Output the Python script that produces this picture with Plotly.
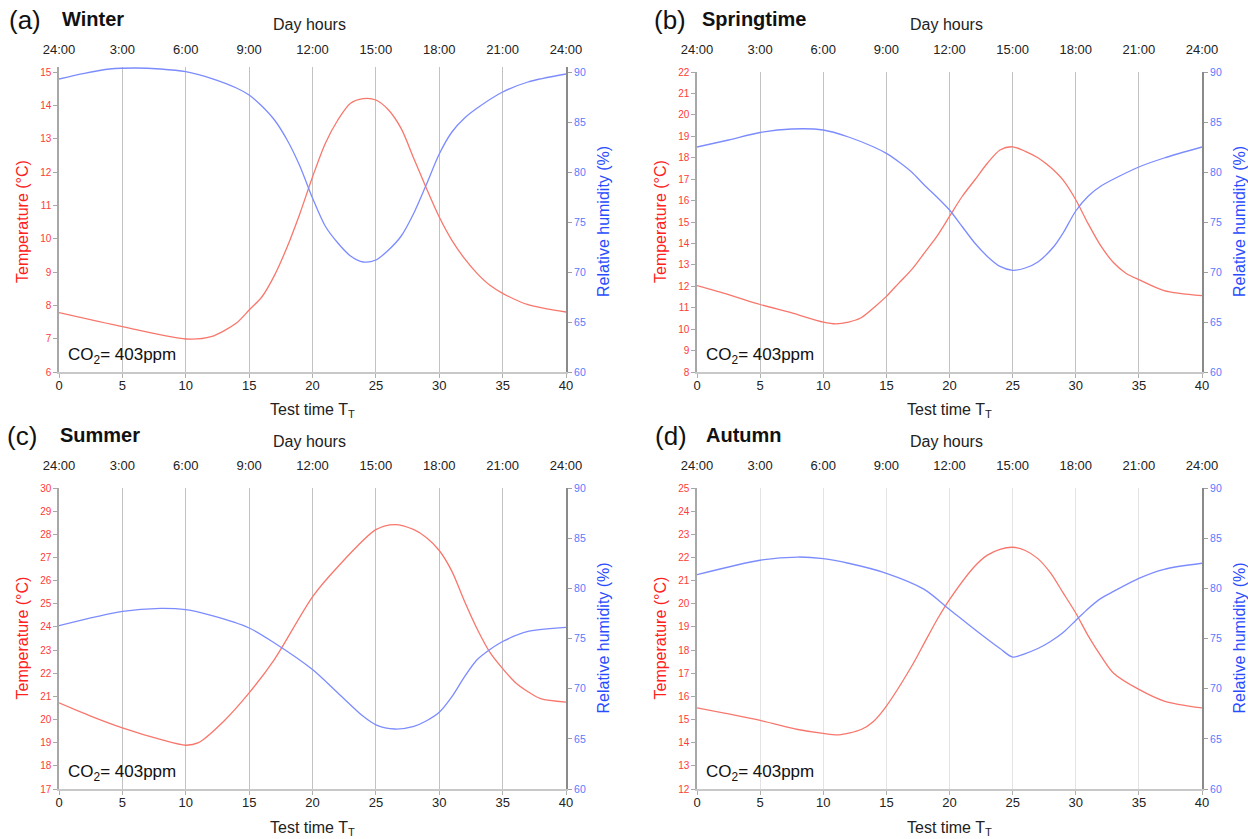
import plotly.graph_objects as go

W, H = 1248, 839

# ---------------- data ----------------
hour_ticks = [0, 5, 10, 15, 20, 25, 30, 35, 40]
hour_labels = ["24:00", "3:00", "6:00", "9:00", "12:00", "15:00", "18:00", "21:00", "24:00"]

winter_temp_x = [0, 5, 10, 12, 14, 15, 16, 17, 18, 19, 20, 21, 22, 23, 24, 25, 26, 27, 28, 29, 30, 31, 32, 33, 34, 35, 37, 40]
winter_temp_y = [7.78, 7.36, 6.99, 7.06, 7.47, 7.86, 8.25, 8.9, 9.75, 10.75, 11.85, 12.85, 13.56, 14.06, 14.2, 14.16, 13.86, 13.3, 12.4, 11.5, 10.65, 9.95, 9.4, 8.95, 8.6, 8.36, 8.02, 7.8]
winter_hum_x = [0, 2, 4, 6, 8, 10, 12, 14, 15, 16, 17, 18, 19, 20, 21, 22, 23, 24, 25, 26, 27, 28, 29, 30, 31, 32, 33, 35, 37, 40]
winter_hum_y = [89.3, 89.87, 90.3, 90.4, 90.3, 90.03, 89.37, 88.4, 87.7, 86.6, 85.2, 83.2, 80.6, 77.4, 74.6, 72.9, 71.6, 71.0, 71.2, 72.2, 73.6, 75.9, 78.8, 81.8, 84.0, 85.4, 86.4, 88.0, 89.0, 89.8]

spring_temp_x = [0, 2.5, 5, 7.5, 10, 11, 12, 13, 14, 15, 16, 17, 18, 19, 20, 21, 22, 23, 24, 25, 26, 27, 28, 29, 30, 31, 32, 33, 34, 35, 37, 40]
spring_temp_y = [12.03, 11.61, 11.15, 10.76, 10.33, 10.25, 10.33, 10.53, 11.0, 11.53, 12.16, 12.78, 13.55, 14.33, 15.26, 16.19, 16.96, 17.74, 18.36, 18.51, 18.3, 18.0, 17.55, 16.95, 16.04, 14.9, 13.87, 13.1, 12.6, 12.31, 11.8, 11.56]
spring_hum_x = [0, 2.5, 5, 7.5, 10, 12, 14, 15, 16, 17, 18, 19, 20, 21, 22, 23, 24, 25, 26, 27, 28.3, 29, 30, 31, 32, 35, 37, 40]
spring_hum_y = [82.5, 83.2, 83.95, 84.3, 84.2, 83.5, 82.5, 81.86, 81.0, 80.0, 78.7, 77.5, 76.2, 74.55, 72.9, 71.56, 70.56, 70.17, 70.4, 71.0, 72.6, 73.9, 76.1, 77.6, 78.6, 80.5, 81.4, 82.5]

summer_temp_x = [0, 2.5, 5, 8, 10, 11, 13, 15, 17, 20, 22, 25, 26.5, 28, 29, 30, 31, 32, 33, 34, 35, 36, 37, 38, 40]
summer_temp_y = [20.72, 20.15, 19.64, 19.14, 18.89, 19.0, 19.93, 21.15, 22.6, 25.3, 26.6, 28.2, 28.42, 28.2, 27.85, 27.3, 26.4, 25.1, 23.9, 22.9, 22.2, 21.6, 21.2, 20.9, 20.75]
summer_hum_x = [0, 5, 8, 10, 12, 15, 17, 20, 22, 24, 25, 26.5, 28, 29, 30, 31, 32, 33, 34, 35, 37, 40]
summer_hum_y = [76.28, 77.7, 78.0, 77.87, 77.3, 76.05, 74.55, 71.9, 69.57, 67.24, 66.4, 65.98, 66.25, 66.8, 67.64, 69.2, 71.2, 72.9, 73.9, 74.7, 75.7, 76.1]

autumn_temp_x = [0, 5, 8, 10, 11.2, 13, 14, 15, 17, 18, 19, 20, 22, 23, 24, 25, 26, 27, 28, 29, 30, 31, 32, 33, 35, 37, 40]
autumn_temp_y = [15.5, 14.96, 14.57, 14.4, 14.34, 14.57, 14.93, 15.58, 17.3, 18.3, 19.3, 20.18, 21.62, 22.1, 22.35, 22.44, 22.3, 21.95, 21.33, 20.47, 19.6, 18.6, 17.74, 17.0, 16.3, 15.8, 15.5]
autumn_hum_x = [0, 5, 8, 10, 12, 15, 18, 20, 22, 24, 25, 26, 27, 28, 29, 30, 31, 32, 33, 35, 37, 40]
autumn_hum_y = [81.36, 82.8, 83.12, 82.96, 82.5, 81.5, 79.9, 77.9, 75.9, 74.0, 73.15, 73.5, 74.0, 74.7, 75.6, 76.8, 78.0, 79.0, 79.7, 81.0, 81.9, 82.5]

panel_letters = ["(a)", "(b)", "(c)", "(d)"]
season_names = ["Winter", "Springtime", "Summer", "Autumn"]
temp_ranges = [(6, 15), (8, 22), (17, 30), (12, 25)]
hum_range = (60, 90)
co2_label = "CO<sub>2</sub>= 403ppm"

panels = [
    (winter_temp_x, winter_temp_y, winter_hum_x, winter_hum_y),
    (spring_temp_x, spring_temp_y, spring_hum_x, spring_hum_y),
    (summer_temp_x, summer_temp_y, summer_hum_x, summer_hum_y),
    (autumn_temp_x, autumn_temp_y, autumn_hum_x, autumn_hum_y),
]

# ---------------- style ----------------
FONT = "Liberation Sans, Arial, sans-serif"
RED_LINE = "#f8776c"
BLUE_LINE = "#7c8cff"
RED_TXT = "#ff3a3a"
BLUE_TXT = "#5a78ff"
RED_TITLE = "#ff2020"
BLUE_TITLE = "#2a4cff"
GRID = ["#c2c2c2", "#c2c2c2", "#c2c2c2", "#e4e4e4"]

# pixel boxes of plot areas: left, right, top, bottom (top = pixel of top tick)
boxes = [(59, 566, 72, 372), (697, 1202, 72, 372), (59, 566, 488, 789), (697, 1202, 488, 789)]
# extra headroom (px) above the top tick so that lines slightly above it stay visible
headroom = [5, 0, 0, 0]


def px(x):
    return x / W


def py(y):
    return 1 - y / H


fig = go.Figure()
layout = {}
annotations = []


def ann(text, x, y, size, color="#111", xanchor="center", angle=0):
    annotations.append(dict(text=text, x=px(x), y=py(y), xref="paper", yref="paper",
                            xanchor=xanchor, yanchor="middle", textangle=angle, showarrow=False,
                            font=dict(family=FONT, size=size, color=color)))


for i, (tx, ty, hx, hy) in enumerate(panels):
    p = i + 1
    q = i + 5
    l, r, t, b = boxes[i]
    hr = headroom[i]
    frac = hr / (b - t)
    xdom = [px(l), px(r)]
    ydom = [py(b), py(t - hr)]

    fig.add_trace(go.Scatter(x=tx, y=ty, mode="lines", xaxis=f"x{p}", yaxis=f"y{p}",
                             line=dict(color=RED_LINE, width=1.3, shape="spline", smoothing=0.8),
                             showlegend=False, hoverinfo="skip"))
    fig.add_trace(go.Scatter(x=hx, y=hy, mode="lines", xaxis=f"x{q}", yaxis=f"y{q}",
                             line=dict(color=BLUE_LINE, width=1.3, shape="spline", smoothing=0.8),
                             showlegend=False, hoverinfo="skip"))

    tlo, thi = temp_ranges[i]
    hlo, hhi = hum_range
    layout[f"xaxis{p}"] = dict(
        domain=xdom, anchor=f"y{p}", range=[0, 40], tickvals=hour_ticks,
        showgrid=True, gridcolor=GRID[i], gridwidth=1.3, zeroline=False,
        showline=True, linecolor="#c8c8c8", linewidth=2,
        ticks="outside", ticklen=4, tickcolor="#b0b0b0", ticklabelstandoff=-4,
        tickfont=dict(family=FONT, size=13, color="#222"), automargin=False, fixedrange=True)
    layout[f"xaxis{q}"] = dict(
        domain=xdom, anchor=f"y{q}", overlaying=f"x{p}", side="top", range=[0, 40],
        tickvals=hour_ticks, ticktext=hour_labels, showgrid=False, zeroline=False,
        showline=False, ticks="outside", ticklen=12 - hr, tickcolor="rgba(0,0,0,0)",
        tickfont=dict(family=FONT, size=13, color="#222"), automargin=False, fixedrange=True)
    layout[f"yaxis{p}"] = dict(
        domain=ydom, anchor=f"x{p}", range=[tlo, thi + (thi - tlo) * frac],
        tickvals=list(range(tlo, thi + 1)),
        showgrid=False, zeroline=False, showline=True, linecolor="#a8a8a8", linewidth=1.5,
        ticks="outside", ticklen=4, tickcolor="#a8a8a8",
        tickfont=dict(family=FONT, size=10, color=RED_TXT), automargin=False, fixedrange=True)
    layout[f"yaxis{q}"] = dict(
        domain=ydom, anchor=f"x{q}", overlaying=f"y{p}", side="right",
        range=[hlo, hhi + (hhi - hlo) * frac], tickvals=list(range(hlo, hhi + 1, 5)),
        showgrid=False, zeroline=False, showline=True,
        linecolor="#8a8a8a", linewidth=2, ticks="outside", ticklen=4, tickcolor="#a0a0a0",
        tickfont=dict(family=FONT, size=10.5, color=BLUE_TXT), automargin=False, fixedrange=True)

    cx = (l + r) / 2
    cy = (t + b) / 2
    left_letter = [7, 652, 5, 653][i]
    left_name = [60, 700, 58, 704][i]
    ann(panel_letters[i], left_letter, t - 52, 26, xanchor="left")
    ann(f"<b>{season_names[i]}</b>", left_name, t - 53, 20, xanchor="left")
    ann("Day hours", cx - 3, t - 47, 16, color="#222")
    ann("Test time T<sub>T</sub>", cx, b + 39, 16, color="#222")
    ann("Temperature (°C)", l - 37, cy, 16, color=RED_TITLE, angle=-90)
    ann("Relative humidity (%)", r + 37, cy, 16, color=BLUE_TITLE, angle=-90)
    ann(co2_label, l + 7, b - 16, 17, xanchor="left")

fig.update_layout(
    width=W, height=H, margin=dict(l=0, r=0, t=0, b=0),
    paper_bgcolor="white", plot_bgcolor="white",
    font=dict(family=FONT), annotations=annotations, **layout)

fig.write_html("out.html", config={"displayModeBar": False},
               post_script="document.body.style.margin='0px';document.body.style.overflow='hidden';")
